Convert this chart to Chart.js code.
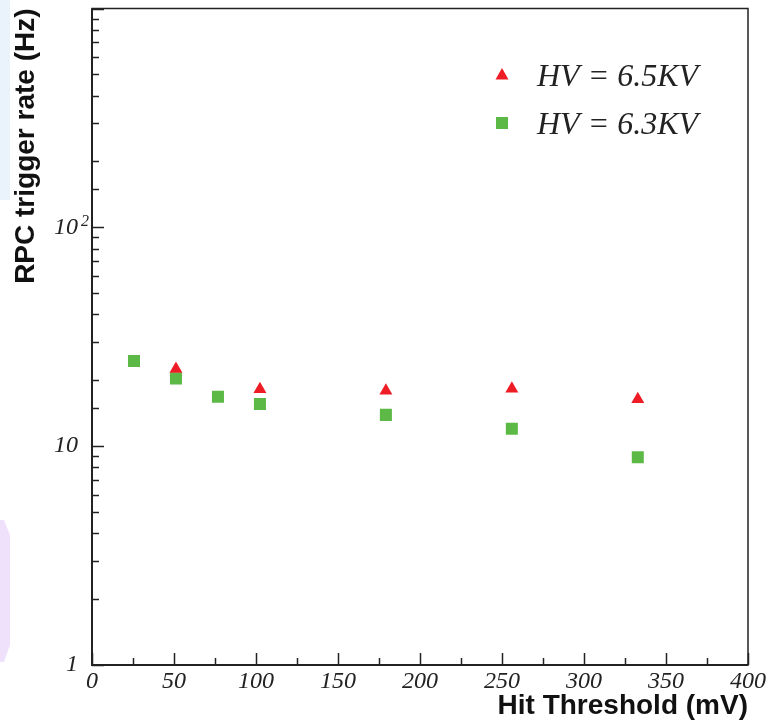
<!DOCTYPE html>
<html>
<head>
<meta charset="utf-8">
<script src="https://cdn.jsdelivr.net/npm/chart.js@4/dist/chart.umd.min.js"></script>
<style>
    html, body { margin: 0; padding: 0; background: #ffffff; }
    #wrap { width: 769px; height: 725px; position: relative; }
</style>
</head>
<body>
<div id="wrap"><canvas id="rateChart"></canvas></div>
<script>
// Hit threshold (mV) and RPC trigger rate (Hz)
const thresholds65 = [51.2, 102.4, 179.2, 256, 332.8];
const rates65 = [22.5, 18.2, 17.9, 18.3, 16.4];

const thresholds63 = [25.6, 51.2, 76.8, 102.4, 179.2, 256, 332.8];
const rates63 = [24.5, 20.4, 16.8, 15.6, 13.9, 12.0, 8.9];

const seriesLabels = ['HV = 6.5KV', 'HV = 6.3KV'];
const xTickStep = 50;
const xRange = [0, 400];
const yRange = [1, 1000];

const RED = '#ee1c25';
const GREEN = '#5cb946';
const INK = '#222222';
const SERIF = '"Liberation Serif", "DejaVu Serif", serif';
const SANS = '"Liberation Sans", Arial, sans-serif';

function toPoints(xs, ys) {
    return xs.map((x, i) => ({ x: x, y: ys[i] }));
}

// pale slide remnants on the left edge
const slideBackground = {
    id: 'slideBackground',
    beforeDraw(chart) {
        const ctx = chart.ctx;
        ctx.save();
        ctx.fillStyle = '#ffffff';
        ctx.fillRect(0, 0, chart.width, chart.height);
        ctx.fillStyle = '#eaf2fb';
        ctx.fillRect(0, 0, 10, 200);
        ctx.fillStyle = '#efe1fb';
        ctx.beginPath();
        ctx.moveTo(0, 520);
        ctx.lineTo(4, 520);
        ctx.lineTo(10, 535);
        ctx.lineTo(10, 645);
        ctx.lineTo(4, 662);
        ctx.lineTo(0, 662);
        ctx.closePath();
        ctx.fill();
        ctx.restore();
    }
};

// frame box + inward major/minor ticks
const frameTicks = {
    id: 'frameTicks',
    afterDraw(chart) {
        const ctx = chart.ctx;
        const area = chart.chartArea;
        const xs = chart.scales.x;
        const ys = chart.scales.y;
        ctx.save();
        ctx.strokeStyle = INK;
        ctx.lineWidth = 1.5;
        ctx.strokeRect(area.left, area.top, area.right - area.left, area.bottom - area.top);

        ctx.lineWidth = 2;
        ctx.beginPath();
        ctx.moveTo(area.left, area.top);
        ctx.lineTo(area.left, area.bottom);
        ctx.lineTo(area.right, area.bottom);
        ctx.stroke();

        // y ticks (log)
        ctx.lineWidth = 1.5;
        ys.ticks.forEach(t => {
            const v = t.value;
            const lg = Math.log10(v);
            const major = Math.abs(lg - Math.round(lg)) < 1e-9;
            const py = Math.round(ys.getPixelForValue(v)) + 0.5;
            const len = major ? 12 : 7;
            ctx.beginPath();
            ctx.moveTo(area.left, py);
            ctx.lineTo(area.left + len, py);
            ctx.stroke();
        });

        // x ticks
        for (let v = xRange[0]; v <= xRange[1]; v += xTickStep / 2) {
            const major = v % xTickStep === 0;
            const px = Math.round(xs.getPixelForValue(v)) + 0.5;
            const len = major ? 12 : 7;
            ctx.beginPath();
            ctx.moveTo(px, area.bottom);
            ctx.lineTo(px, area.bottom - len);
            ctx.stroke();
        }

        // exponent on the 10^2 label
        ctx.fillStyle = INK;
        ctx.font = 'italic 16px ' + SERIF;
        ctx.textAlign = 'left';
        ctx.textBaseline = 'alphabetic';
        ctx.fillText('2', area.left - 11, ys.getPixelForValue(100) - 1);
        ctx.restore();
    }
};

// legend inside the plot, top right
const insideLegend = {
    id: 'insideLegend',
    afterDatasetsDraw(chart) {
        const ctx = chart.ctx;
        const area = chart.chartArea;
        const mx = area.right - 246;
        const tx = area.right - 211;
        ctx.save();
        chart.data.datasets.forEach((ds, i) => {
            const cy = area.top + 66 + i * 48;
            ctx.fillStyle = ds.backgroundColor;
            ctx.beginPath();
            if (ds.pointStyle === 'triangle') {
                ctx.moveTo(mx, cy - 6.5);
                ctx.lineTo(mx + 6.5, cy + 5);
                ctx.lineTo(mx - 6.5, cy + 5);
                ctx.closePath();
            } else {
                ctx.rect(mx - 6, cy - 5.5, 12, 12);
            }
            ctx.fill();
            ctx.fillStyle = INK;
            ctx.font = 'italic 32px ' + SERIF;
            ctx.textAlign = 'left';
            ctx.textBaseline = 'alphabetic';
            ctx.fillText(ds.label, tx, cy + 11);
        });
        ctx.restore();
    }
};

const ctx = document.getElementById('rateChart').getContext('2d');

new Chart(ctx, {
    type: 'scatter',
    data: {
        datasets: [{
            label: seriesLabels[0],
            data: toPoints(thresholds65, rates65),
            pointStyle: 'triangle',
            pointRadius: 7.5,
            pointHoverRadius: 7.5,
            backgroundColor: RED,
            borderColor: RED,
            borderWidth: 0
        }, {
            label: seriesLabels[1],
            data: toPoints(thresholds63, rates63),
            pointStyle: 'rect',
            pointRadius: 8.5,
            pointHoverRadius: 8.5,
            backgroundColor: GREEN,
            borderColor: GREEN,
            borderWidth: 0
        }]
    },
    options: {
        responsive: true,
        maintainAspectRatio: false,
        animation: false,
        layout: {
            padding: { top: 8, right: 21, left: 0, bottom: 0 }
        },
        plugins: {
            legend: { display: false },
            tooltip: { enabled: false }
        },
        scales: {
            x: {
                type: 'linear',
                min: xRange[0],
                max: xRange[1],
                grid: { display: false, drawTicks: false },
                border: { display: false },
                ticks: {
                    stepSize: xTickStep,
                    padding: 2,
                    color: INK,
                    font: { family: SERIF, style: 'italic', size: 24 },
                    maxRotation: 0,
                    callback: (v) => v
                },
                title: {
                    display: true,
                    text: 'Hit Threshold (mV)',
                    align: 'end',
                    color: '#111111',
                    font: { family: SANS, weight: 'bold', size: 28 },
                    padding: { top: 0, bottom: 2 }
                },
                afterFit: (scale) => {
                    scale.height = 60;
                    scale.paddingLeft = 0;
                    scale.paddingRight = 0;
                }
            },
            y: {
                type: 'logarithmic',
                min: yRange[0],
                max: yRange[1],
                grid: { display: false, drawTicks: false },
                border: { display: false },
                ticks: {
                    autoSkip: false,
                    padding: 14,
                    color: INK,
                    font: { family: SERIF, style: 'italic', size: 24 },
                    callback: (v) => {
                        if (v === 1) return '1';
                        if (v === 10 || v === 100) return '10';
                        return '';
                    }
                },
                title: {
                    display: true,
                    text: 'RPC trigger rate (Hz)',
                    align: 'end',
                    color: '#111111',
                    font: { family: SANS, weight: 'bold', size: 28 },
                    padding: { top: 9, bottom: 0 }
                },
                afterFit: (scale) => {
                    scale.width = 92;
                    scale.paddingTop = 0;
                    scale.paddingBottom = 0;
                }
            }
        }
    },
    plugins: [slideBackground, frameTicks, insideLegend]
});
</script>
</body>
</html>
